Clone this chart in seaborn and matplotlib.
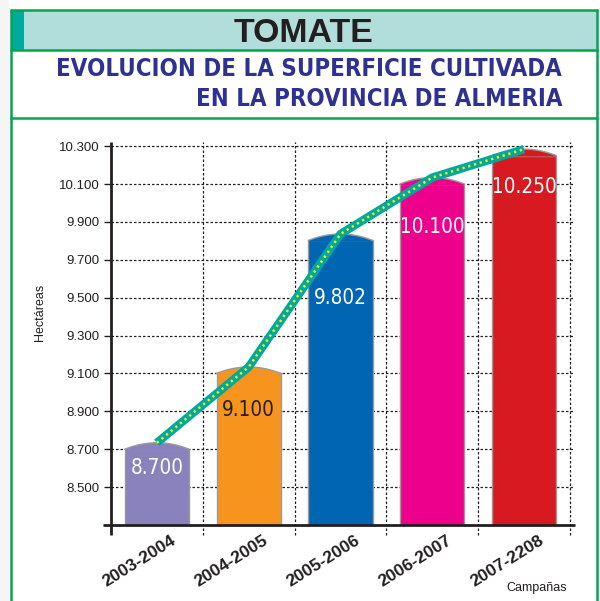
import numpy as np
import pandas as pd
import seaborn as sns
import matplotlib
matplotlib.use("Agg")
import matplotlib.pyplot as plt
from matplotlib import font_manager as fm
from matplotlib.patches import Rectangle, Polygon
from matplotlib.lines import Line2D
from matplotlib.transforms import ScaledTranslation, blended_transform_factory

# ---------------- data ----------------
campaigns = ["2003-2004", "2004-2005", "2005-2006", "2006-2007", "2007-2208"]
hectares = [8700, 9100, 9802, 10100, 10250]
value_labels = ["8.700", "9.100", "9.802", "10.100", "10.250"]
bar_colors = ["#8A82BC", "#F7941D", "#0066B3", "#EC008C", "#D71A21"]
label_colors = ["white", "#231F20", "white", "white", "white"]
y_ticks = [8500, 8700, 8900, 9100, 9300, 9500, 9700, 9900, 10100, 10300]
y_tick_labels = [f"{v:,}".replace(",", ".") for v in y_ticks]
title = "TOMATE"
subtitle_1 = "EVOLUCION DE LA SUPERFICIE CULTIVADA"
subtitle_2 = "EN LA PROVINCIA DE ALMERIA"
y_title = "Hectáreas"
x_title = "Campañas"

# ---------------- layout / style ----------------
label_drop = [97, 194, 304, 228, 166]  # distance of each label centre below bar top (data units)
dome = 34  # height of the rounded bar top (data units)

sns.set_theme(style="white")
avail = {f.name for f in fm.fontManager.ttflist}
BASE = "Liberation Sans" if "Liberation Sans" in avail else "DejaVu Sans"
plt.rcParams["font.family"] = [BASE, "DejaVu Sans"]


def find_condensed(bold, prefs):
    order = ["Liberation Sans Narrow", "Noto Sans", "DejaVu Sans", "Open Sans", "Roboto", "Lato"]
    best = None
    for f in fm.fontManager.ttflist:
        st = str(f.stretch)
        if st in prefs:
            srank = prefs.index(st)
        elif "narrow" in f.name.lower():
            srank = 0
        else:
            continue
        if "italic" in str(f.style) or "oblique" in str(f.style):
            continue
        w = f.weight if isinstance(f.weight, int) else {"normal": 400, "regular": 400,
                                                          "bold": 700}.get(str(f.weight), 400)
        want = 700 if bold else 400
        rank = (srank, order.index(f.name) if f.name in order else 99, abs(w - want))
        if best is None or rank < best[0]:
            best = (rank, f.fname)
    return best[1] if best else None


COND = ["condensed", "extra-condensed", "semi-condensed"]
XCOND = ["extra-condensed", "condensed", "semi-condensed"]


def fprops(bold=False, prefs=None):
    fn = find_condensed(bold, prefs) if prefs else None
    if fn:
        return fm.FontProperties(fname=fn)
    return fm.FontProperties(family=[BASE, "DejaVu Sans"], weight="bold" if bold else "normal")


W, H = 600, 601
fig = plt.figure(figsize=(W / 100, H / 100), dpi=100, facecolor="white")
renderer = fig.canvas.get_renderer()


def fx(px):
    return px / W


def fy(py):
    return 1 - py / H


def fit_width(txt, target_px):
    w = txt.get_window_extent(renderer).width
    txt.set_fontsize(txt.get_fontsize() * target_px / w)
    return txt.get_fontsize()


GREEN = "#00A651"
fig.patches.append(Rectangle((0, 0), fx(9), 1, transform=fig.transFigure,
                             facecolor="#F5F5F5", edgecolor="none", zorder=0))
fig.patches.append(Rectangle((fx(11), fy(50)), fx(597) - fx(11), fy(10) - fy(50),
                             transform=fig.transFigure, facecolor="#B1DEDA",
                             edgecolor="none", zorder=1))
fig.patches.append(Rectangle((fx(11), fy(50)), fx(24) - fx(11), fy(10) - fy(50),
                             transform=fig.transFigure, facecolor="#00A99D",
                             edgecolor="none", zorder=2))
frame_lines = [
    ([fx(11), fx(11)], [fy(10), 0]),
    ([fx(597), fx(597)], [fy(10), 0]),
    ([fx(11), fx(597)], [fy(10), fy(10)]),
    ([fx(11), fx(597)], [fy(50), fy(50)]),
    ([fx(11), fx(597)], [fy(118), fy(118)]),
]
for xs_, ys_ in frame_lines:
    fig.add_artist(Line2D(xs_, ys_, transform=fig.transFigure, color=GREEN, lw=1.8, zorder=3))

t_title = fig.text(fx(304), fy(33), title, ha="center", va="center",
                   color="#231F20", zorder=4, fontproperties=fprops(True, None))
t_title.set_fontsize(22)
fit_width(t_title, 140)

sub_fp = fprops(True, COND)
t_s1 = fig.text(fx(562), fy(69), subtitle_1, ha="right", va="center",
                color="#2E3192", zorder=4, fontproperties=sub_fp)
t_s1.set_fontsize(19.5)
size_sub = fit_width(t_s1, 505)
t_s2 = fig.text(fx(562), fy(99), subtitle_2, ha="right", va="center",
                color="#2E3192", zorder=4, fontproperties=sub_fp)
t_s2.set_fontsize(size_sub)

# axes: left at px 111, right 575, top 142, bottom 525
ax = fig.add_axes([fx(111), fy(525), fx(575) - fx(111), fy(142) - fy(525)])
ax.set_facecolor("none")

df = pd.DataFrame({"campaign": campaigns, "hectares": hectares})
sns.barplot(data=df, x="campaign", y="hectares", hue="campaign",
            palette=bar_colors, width=0.70, edgecolor="#9A9A9A", linewidth=1.0,
            saturation=1, legend=False, ax=ax, zorder=3)

ax.set_ylim(8300, 8300 + 383 / 0.18944)
ax.set_xlim(-0.5, 4.555)

# rounded bar tops
for p, c in zip(ax.patches, bar_colors):
    x0, w, top = p.get_x(), p.get_width(), p.get_height()
    xs = np.linspace(x0, x0 + w, 50)
    t = (xs - (x0 + w / 2)) / (w / 2)
    ys = top + dome * (1 - t ** 2)
    poly = np.column_stack([np.r_[xs, x0 + w, x0], np.r_[ys, top - 5, top - 5]])
    ax.add_patch(Polygon(poly, closed=True, facecolor=c, edgecolor="none", zorder=3.1))
    ax.plot(xs, ys, color="#9A9A9A", lw=1.0, zorder=3.2)

# grid
DOT = (0, (2.0, 1.6))
for v in y_ticks:
    ax.axhline(v, color="#231F20", lw=0.9, ls=DOT, zorder=1)
btrans = blended_transform_factory(ax.transData, ax.transAxes)
for i in range(len(campaigns)):
    ax.plot([i + 0.5, i + 0.5], [-0.026, 1.0], transform=btrans, color="#231F20",
            lw=0.9, ls=DOT, zorder=1, clip_on=False)

# axis lines
ax.plot([0, 0], [-0.026, 1.0], transform=ax.transAxes, color="#231F20", lw=2.0,
        zorder=5, clip_on=False, solid_capstyle="butt")
ax.plot([-0.017, 1.0], [0, 0], transform=ax.transAxes, color="#231F20", lw=2.0,
        zorder=5, clip_on=False, solid_capstyle="butt")
for s in ax.spines.values():
    s.set_visible(False)

# trend line over the bars
xpos = np.arange(len(campaigns))
line_vals = np.array(hectares) + dome
sns.lineplot(x=xpos, y=line_vals, color="#00A99D", lw=6, ax=ax, zorder=6,
             solid_capstyle="butt")
sns.lineplot(x=xpos, y=line_vals, color="#FFE812", lw=1.8, ax=ax, zorder=7,
             linestyle=(0, (0.9, 1.5)))

# value labels
lab_fp = fprops(False, XCOND)
lab_txt = []
for i, (v, lab, col, dr) in enumerate(zip(hectares, value_labels, label_colors, label_drop)):
    tt = ax.text(i, v - dr, lab, ha="center", va="center", color=col, zorder=8,
                 fontproperties=lab_fp)
    tt.set_fontsize(19.5)
    lab_txt.append(tt)
w_ref = lab_txt[-1].get_window_extent(renderer).width
scale = min(1.0, 65 / w_ref)
for tt in lab_txt:
    tt.set_fontsize(19.5 * scale)

# ticks
ax.set_yticks(y_ticks)
ax.set_yticklabels(y_tick_labels)
ax.tick_params(axis="y", length=5, width=1.0, color="#231F20", pad=3,
               labelsize=9.5, labelcolor="#231F20", left=True)
ax.set_xticks(xpos)
ax.set_xticklabels(campaigns, rotation=32, ha="right", va="top",
                   rotation_mode="anchor", fontsize=12.5, fontweight="bold",
                   color="#231F20")
ax.tick_params(axis="x", length=0, pad=0)
off = ScaledTranslation(14 / 100, -8 / 100, fig.dpi_scale_trans)
for lbl in ax.get_xticklabels():
    lbl.set_transform(lbl.get_transform() + off)
ax.set_xlabel("")
ax.set_ylabel("")

fig.text(fx(40), fy(312), y_title, rotation=90, ha="center", va="center",
         fontsize=9, color="#231F20")
fig.text(fx(537), fy(588), x_title, ha="center", va="center", fontsize=9,
         color="#231F20")

fig.savefig("out.png", dpi=100, facecolor="white")
